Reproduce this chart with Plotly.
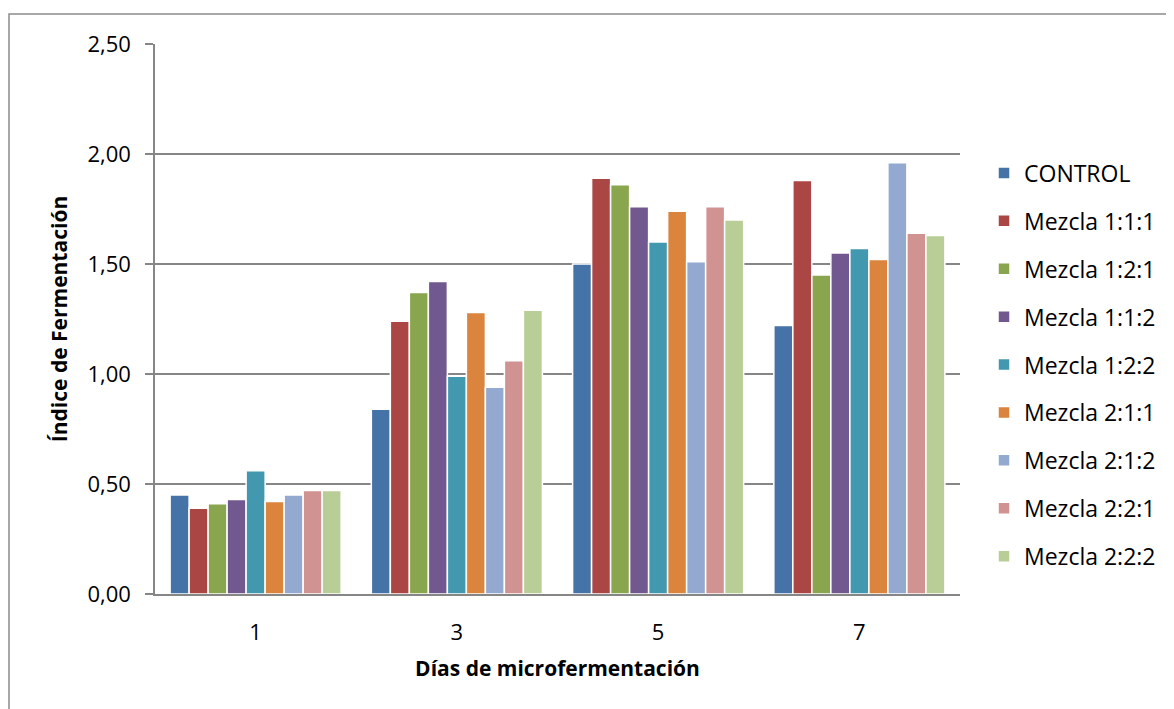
import plotly.graph_objects as go

dias = ["1", "3", "5", "7"]
series_names = ["CONTROL", "Mezcla 1:1:1", "Mezcla 1:2:1", "Mezcla 1:1:2", "Mezcla 1:2:2",
                "Mezcla 2:1:1", "Mezcla 2:1:2", "Mezcla 2:2:1", "Mezcla 2:2:2"]
control = [0.45, 0.84, 1.50, 1.22]
m111 = [0.39, 1.24, 1.89, 1.88]
m121 = [0.41, 1.37, 1.86, 1.45]
m112 = [0.43, 1.42, 1.76, 1.55]
m122 = [0.56, 0.99, 1.60, 1.57]
m211 = [0.42, 1.28, 1.74, 1.52]
m212 = [0.45, 0.94, 1.51, 1.96]
m221 = [0.47, 1.06, 1.76, 1.64]
m222 = [0.47, 1.29, 1.70, 1.63]
values = [control, m111, m121, m112, m122, m211, m212, m221, m222]
colors = ["#4572A7", "#AA4643", "#89A54E", "#71588F", "#4198AF",
          "#DB843D", "#93A9CF", "#D19392", "#B9CD96"]
y_ticks = [0, 0.5, 1.0, 1.5, 2.0, 2.5]

FONT = "Open Sans"
OFF = 8  # page body margin

fig = go.Figure()
for i, (name, vals, col) in enumerate(zip(series_names, values, colors)):
    fig.add_trace(go.Bar(
        x=dias, y=vals, name=name, legendgroup=str(i),
        marker=dict(color=col, line=dict(color="white", width=1.5)),
    ))

W, H = 1166, 701
# plot-area edges in screen pixels
L, R, T, B = 155, 960, 44, 594
pw, ph = R - L, B - T

def px(x):
    return (x - L) / pw

def py(y):
    return (B - y) / ph

fig.update_layout(
    width=W, height=H,
    margin=dict(l=L - OFF, r=W - (R - OFF), t=T - OFF, b=H - (B - OFF), pad=0),
    paper_bgcolor="white", plot_bgcolor="white",
    separators=",.",
    font=dict(family=FONT, size=22, color="black"),
    barmode="group", bargap=0.15, bargroupgap=0.0,
    showlegend=True,
    legend=dict(
        x=px(984), xanchor="left", y=py(365), yanchor="middle",
        traceorder="grouped", tracegroupgap=15,
        font=dict(family=FONT, size=23, color="black"),
        itemwidth=30, bgcolor="rgba(0,0,0,0)",
    ),
    xaxis=dict(
        showline=True, linecolor="#868686", linewidth=1.5,
        ticks="", showgrid=False, ticklabelstandoff=18,
        tickfont=dict(family=FONT, size=22),
        title=dict(text="<b>Días de microfermentación</b>", standoff=16,
                   font=dict(family=FONT, size=21)),
    ),
    yaxis=dict(
        range=[0, 2.5], tickvals=y_ticks, tickformat=".2f",
        showline=True, linecolor="#868686", linewidth=1.5,
        ticks="outside", ticklen=8, tickcolor="#868686", tickwidth=1.5,
        ticklabelstandoff=10,
        showgrid=True, gridcolor="#868686", gridwidth=1.5,
        zeroline=False,
        tickfont=dict(family=FONT, size=22),
        title=dict(text="<b>Índice de Fermentación</b>", standoff=14,
                   font=dict(family=FONT, size=21)),
    ),
    shapes=[dict(
        type="rect", xref="paper", yref="paper",
        x0=px(9), x1=px(1250), y0=py(780), y1=py(14),
        line=dict(color="#8c8c8c", width=1.5), fillcolor="rgba(0,0,0,0)",
        layer="below",
    )],
)

fig.write_html("out.html")
